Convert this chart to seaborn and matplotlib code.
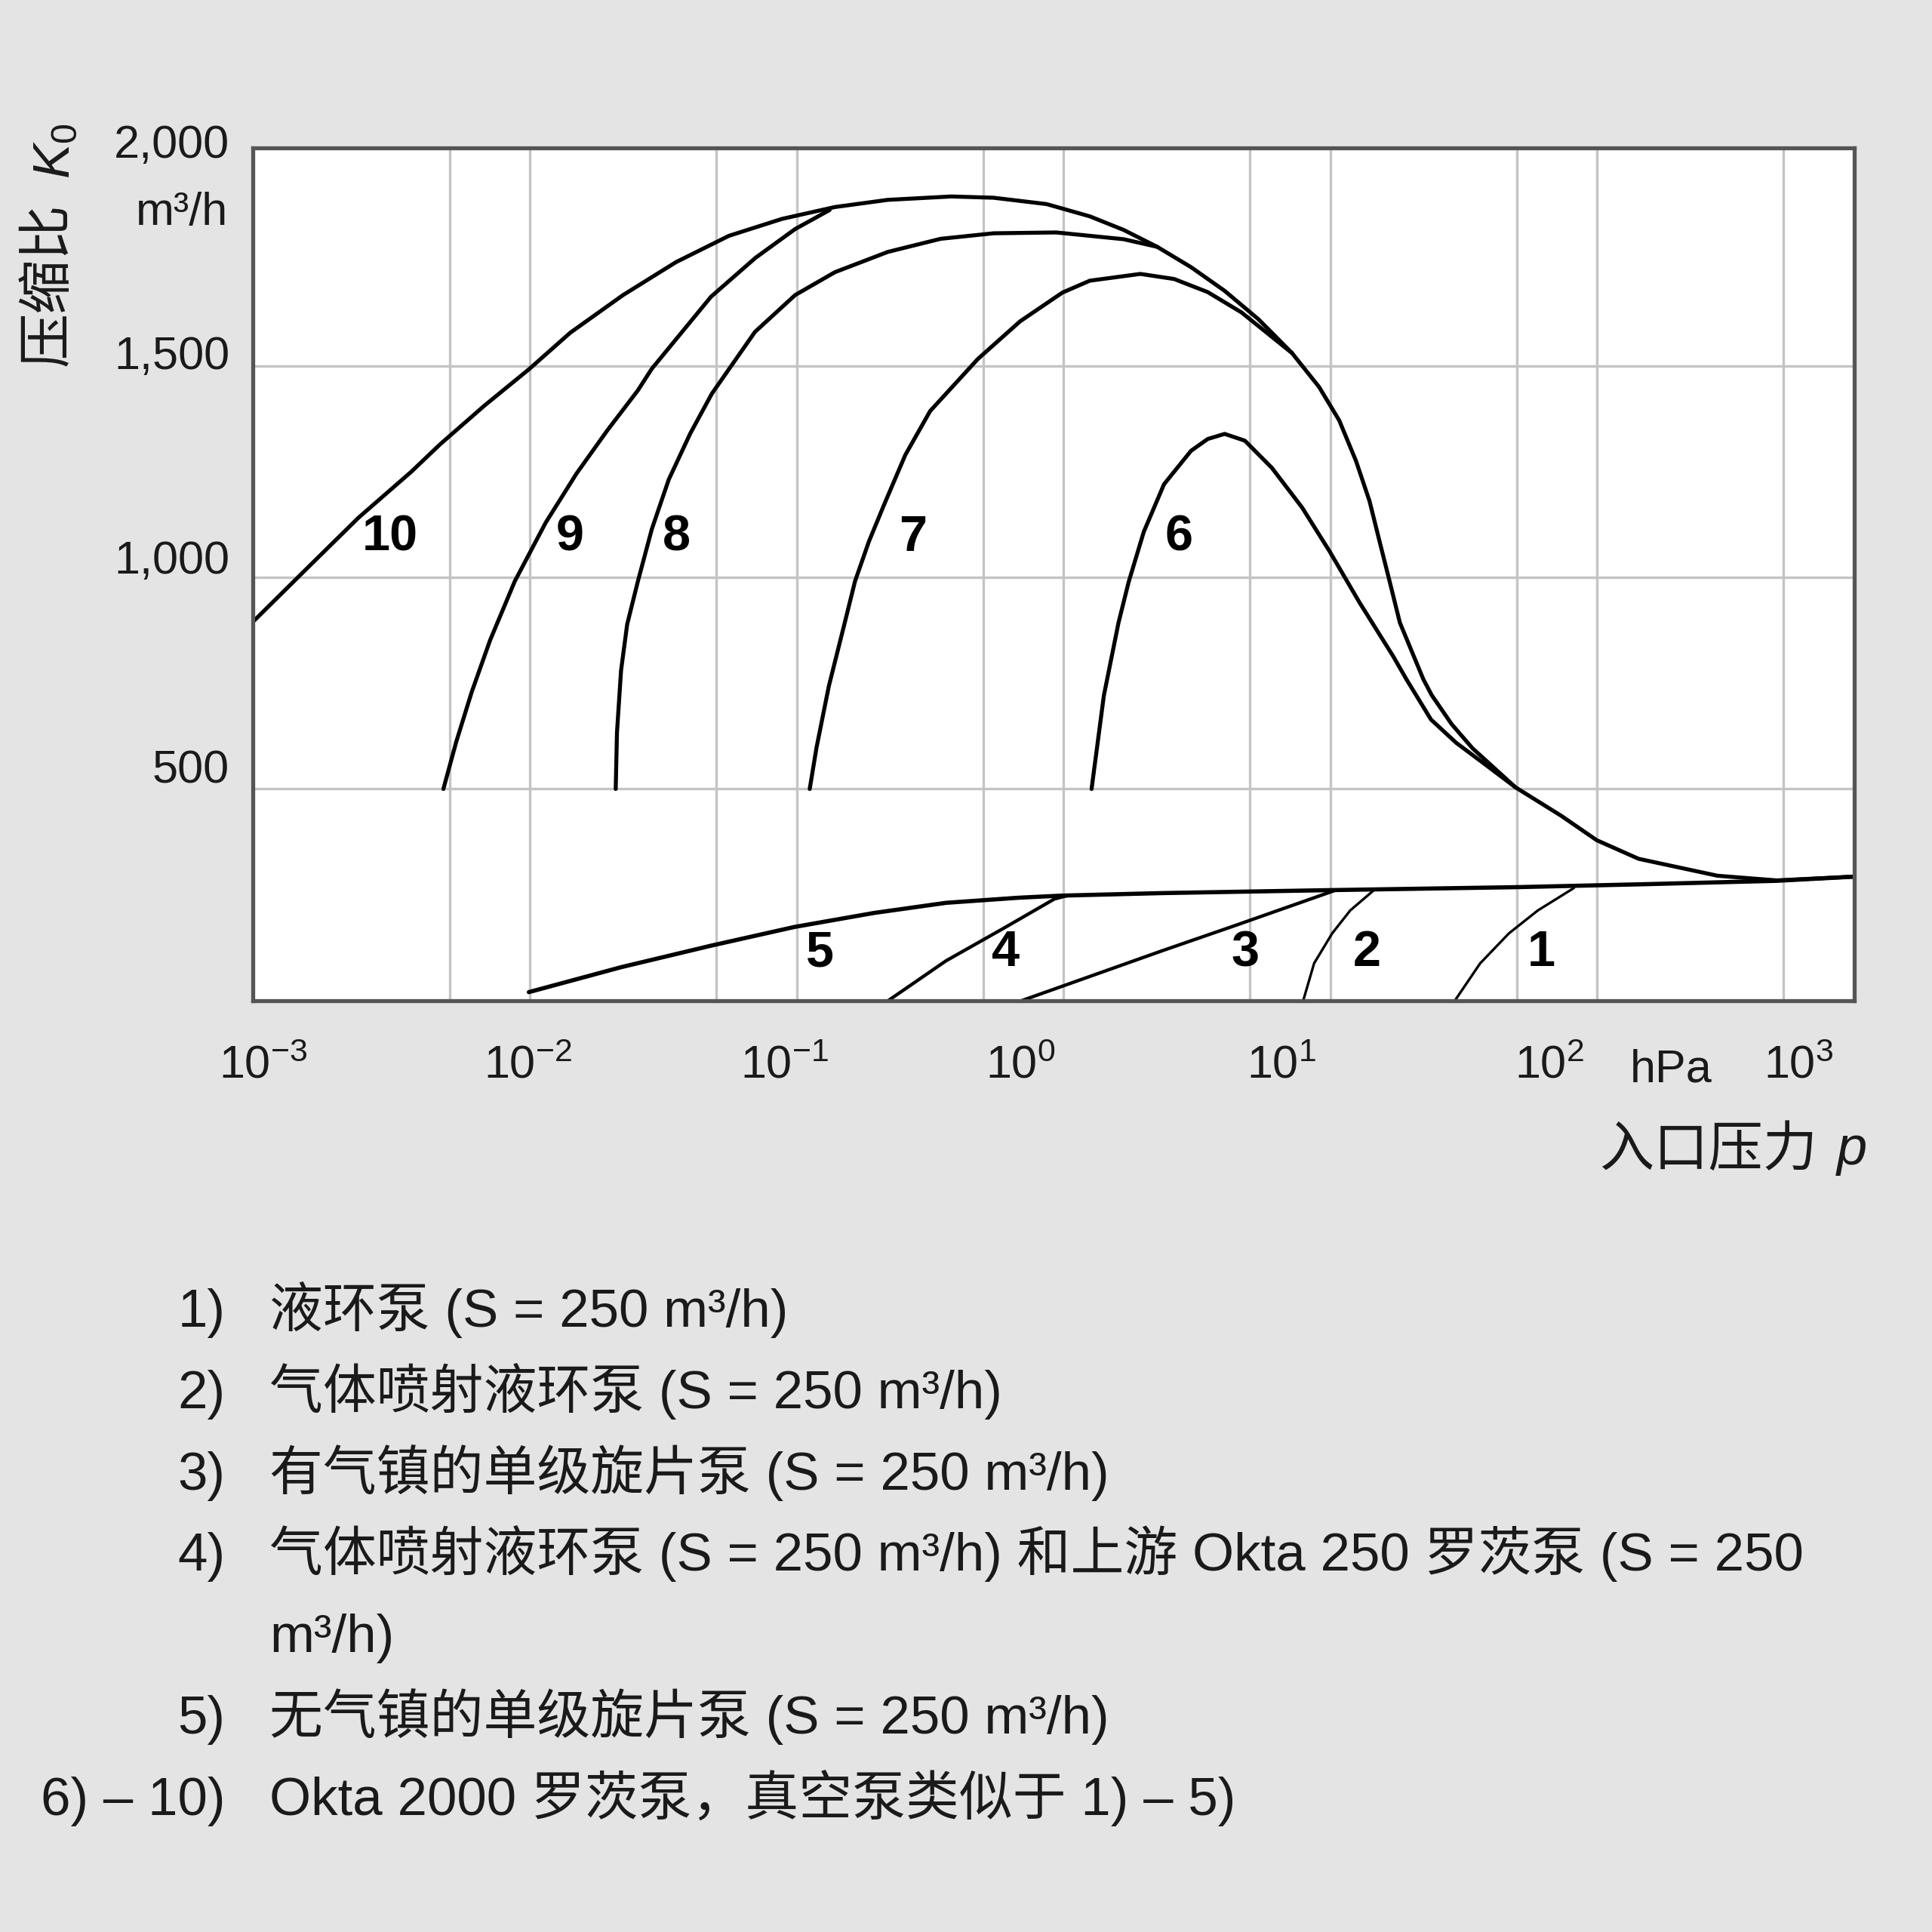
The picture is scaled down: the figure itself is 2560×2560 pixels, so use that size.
import matplotlib
matplotlib.use("Agg")
import matplotlib.pyplot as plt
import matplotlib.transforms as mtransforms
from matplotlib.ticker import NullFormatter
import seaborn as sns

# inlet pressure p [hPa] and compression ratio K0
# 10 is the upper envelope, 9/8/7/6 end where they run into it
p_10 = [0.000912, 0.001442, 0.002277, 0.003597, 0.004598, 0.006728, 0.009972, 0.01416,
        0.02234, 0.03532, 0.05572, 0.0881, 0.139, 0.2196, 0.38, 0.5473, 0.8646, 1.256,
        1.681, 2.247, 3.008, 4.022, 5.381, 7.194, 9.083, 10.81, 12.50, 14.05, 15.33,
        16.73, 18.25, 22.36, 24.01, 28.55, 34.18, 49.48, 73.33, 99.8, 143.3, 283.1,
        471.7, 1000]
k_10 = [894, 1018, 1141, 1250, 1314, 1405, 1493, 1578,
        1667, 1745, 1807, 1847, 1875, 1892, 1900, 1897, 1882, 1853,
        1821, 1781, 1733, 1677, 1610, 1530, 1450, 1371, 1275, 1180, 1084,
        989, 893, 759, 722, 653, 596, 504, 437, 379, 335, 295,
        284, 294]

p_9 = [0.004737, 0.005297, 0.006049, 0.007096, 0.008778, 0.01145, 0.01494, 0.01949,
       0.0254, 0.02864, 0.04772, 0.07007, 0.09867, 0.1329]
k_9 = [500, 612, 729, 852, 991, 1129, 1245, 1347, 1442, 1493, 1663, 1755, 1823, 1868]

p_8 = [0.02097, 0.0212, 0.02196, 0.02315, 0.0254, 0.02864, 0.03314, 0.03991, 0.04808,
       0.05791, 0.06977, 0.09867, 0.139, 0.2196, 0.3468, 0.5473, 0.9395, 1.681, 2.247]
k_8 = [500, 634, 780, 889, 991, 1114, 1231, 1340, 1434, 1507, 1580, 1667, 1721, 1769,
       1800, 1813, 1815, 1799, 1781]

p_7 = [0.1119, 0.1187, 0.132, 0.1509, 0.1655, 0.1866, 0.2131, 0.2553, 0.3165, 0.4777,
       0.6882, 0.992, 1.256, 1.943, 2.6, 3.476, 4.652, 6.22, 7.194]
k_7 = [500, 598, 743, 889, 991, 1085, 1173, 1289, 1393, 1516, 1605, 1673, 1701, 1717,
       1705, 1674, 1626, 1562, 1530]

p_6 = [1.275, 1.418, 1.609, 1.756, 2.002, 2.383, 3.008, 3.476, 4.022, 4.787, 6.041,
       7.848, 9.961, 12.87, 17.21, 19.32, 23.88, 29.69, 37.37, 49.48]
k_6 = [500, 721, 893, 989, 1108, 1220, 1299, 1327, 1339, 1323, 1259, 1165, 1061, 941,
       814, 759, 664, 609, 562, 504]

# 5 runs on into the common plateau of the backing pumps
p_5 = [0.009908, 0.0220, 0.04794, 0.09815, 0.1947, 0.3631, 0.6773, 0.9835, 2.352,
       10.04, 49.85, 150.9, 471.7, 1000]
k_5 = [20, 79, 130, 174, 207, 231, 243, 248, 254, 261, 268, 275, 283, 294]

p_4 = [0.2205, 0.3631, 0.5973, 0.9247, 1.047]
k_4 = [0, 94, 171, 240, 249]

p_3 = [0.6983, 2.352, 4.387, 10.50]
k_3 = [0, 118, 177, 261]

p_2 = [7.925, 8.704, 10.18, 11.89, 14.78]
k_2 = [0, 88, 159, 213, 264]

p_1 = [29.35, 36.50, 46.82, 60.05, 82.0]
k_1 = [0, 88, 159, 213, 266]

# curve numbers written into the plot
label_text = ["10", "9", "8", "7", "6", "5", "4", "3", "2", "1"]
label_p = [0.002995, 0.01416, 0.03532, 0.2733, 2.716, 0.1221, 0.6088, 4.818, 13.72, 61.99]
label_k = [1093, 1093, 1093, 1093, 1093, 112, 112, 112, 112, 112]

xtick_vals = [1e-3, 1e-2, 1e-1, 1e0, 1e1, 1e2]
xtick_text = [r"$10^{-3}$", r"$10^{-2}$", r"$10^{-1}$", r"$10^{0}$", r"$10^{1}$", r"$10^{2}$"]
xtick_shift = [0.0, -0.013, -0.082, -0.286, -0.322, -0.314]   # inches, as set in the original
xgrid_minor = [5e-3, 5e-2, 5e-1, 5e0, 5e1, 5e2]
ytick_vals = [500, 1000, 1500, 2000]
ytick_text = ["500", "1,000", "1,500", "2,000"]
ytick_shift = [0.15, 0.135, 0.09, 0.085]

legend_nums = ["1)", "2)", "3)", "4)", "", "5)", "6) – 10)"]
legend_lines = [
    "液环泵 (S = 250 m³/h)",
    "气体喷射液环泵 (S = 250 m³/h)",
    "有气镇的单级旋片泵 (S = 250 m³/h)",
    "气体喷射液环泵 (S = 250 m³/h) 和上游 Okta 250 罗茨泵 (S = 250",
    "m³/h)",
    "无气镇的单级旋片泵 (S = 250 m³/h)",
    "Okta 2000 罗茨泵，真空泵类似于 1) – 5)",
]

sns.set_theme(style="white")
plt.rcParams["font.family"] = ["Liberation Sans", "Noto Sans CJK SC", "DejaVu Sans"]
plt.rcParams["mathtext.fontset"] = "custom"
plt.rcParams["mathtext.rm"] = "Liberation Sans"
plt.rcParams["mathtext.it"] = "Liberation Sans:italic"
plt.rcParams["mathtext.bf"] = "Liberation Sans:bold"
plt.rcParams["text.color"] = "#1a1a1a"

bg = "#e4e4e4"
fig = plt.figure(figsize=(12.8, 12.8), dpi=200)
fig.patch.set_facecolor(bg)
ax = fig.add_axes([0.1307, 0.4821, 0.8291, 0.4414])
ax.set_facecolor("white")
ax.set_xscale("log")

curves = [(p_10, k_10), (p_9, k_9), (p_8, k_8), (p_7, k_7), (p_6, k_6),
          (p_5, k_5), (p_4, k_4), (p_3, k_3), (p_2, k_2), (p_1, k_1)]
widths = [1.9, 1.9, 1.9, 1.9, 1.9, 2.0, 1.6, 1.6, 1.2, 1.2]
for (p, k), lw in zip(curves, widths):
    sns.lineplot(x=p, y=k, ax=ax, color="black", linewidth=lw,
                 sort=False, estimator=None, legend=False)

for s, p, k in zip(label_text, label_p, label_k):
    ax.text(p, k, s, fontsize=24, fontweight="bold", ha="center", va="center",
            color="black")

ax.set_xlim(10 ** -3.04, 10 ** 2.965)
ax.set_ylim(0, 2015)
ax.set_xticks(xtick_vals)
ax.set_xticklabels(xtick_text)
ax.set_xticks(xgrid_minor, minor=True)
ax.xaxis.set_minor_formatter(NullFormatter())
ax.set_yticks(ytick_vals)
ax.set_yticklabels(ytick_text)
ax.tick_params(which="both", length=0)
ax.tick_params(axis="x", pad=21, labelsize=22, labelcolor="#1a1a1a")
ax.tick_params(axis="y", pad=11, labelsize=22, labelcolor="#1a1a1a")

ax.grid(which="both", axis="x", color="#c4c4c4", linewidth=1.2)
ax.grid(which="major", axis="y", color="#c4c4c4", linewidth=1.2)
# no grid line at 10^-3 (it would hug the frame) or at 2,000
ax.xaxis.get_gridlines()[0].set_visible(False)
ax.yaxis.get_gridlines()[-1].set_visible(False)
ax.set_axisbelow(True)
for sp in ax.spines.values():
    sp.set_visible(True)
    sp.set_color("#555555")
    sp.set_linewidth(1.9)

# tick labels are nudged the way they sit in the original
for lbl, dx in zip(ax.get_xticklabels(), xtick_shift):
    lbl.set_transform(lbl.get_transform() + mtransforms.ScaledTranslation(dx, 0, fig.dpi_scale_trans))
for lbl, dy in zip(ax.get_yticklabels(), ytick_shift):
    lbl.set_transform(lbl.get_transform() + mtransforms.ScaledTranslation(0, dy, fig.dpi_scale_trans))

# the last decade label and the unit sit inside the right end of the axis
xlab_tr = ax.get_xaxis_transform() + mtransforms.ScaledTranslation(0, -21 / 72, fig.dpi_scale_trans)
ax.text(569, 0, r"$10^{3}$", transform=xlab_tr, ha="center", va="top", fontsize=22)
ax.text(190, 0, "hPa", transform=xlab_tr + mtransforms.ScaledTranslation(0, -0.025, fig.dpi_scale_trans),
        ha="center", va="top", fontsize=22)
fig.text(0.118, 0.8897, "m³/h", ha="right", va="center", fontsize=22)

fig.text(0.0253, 0.8529, "压缩比", rotation=90, ha="center", va="center", fontsize=26)
fig.text(0.029, 0.9216, r"$K_0$", rotation=90, ha="center", va="center", fontsize=25)

fig.text(0.9407, 0.4037, "入口压力", ha="right", va="center", fontsize=26)
fig.text(0.950, 0.4037, r"$p$", ha="left", va="center", fontsize=26)

y0 = 0.3133
dy = 0.0421
for i, (num, line) in enumerate(zip(legend_nums, legend_lines)):
    y = y0 - i * dy
    if num:
        fig.text(0.1165, y, num, ha="right", va="baseline", fontsize=25.5)
    fig.text(0.1395, y, line, ha="left", va="baseline", fontsize=25.5)

fig.savefig("out.png", dpi=200, facecolor=bg)
